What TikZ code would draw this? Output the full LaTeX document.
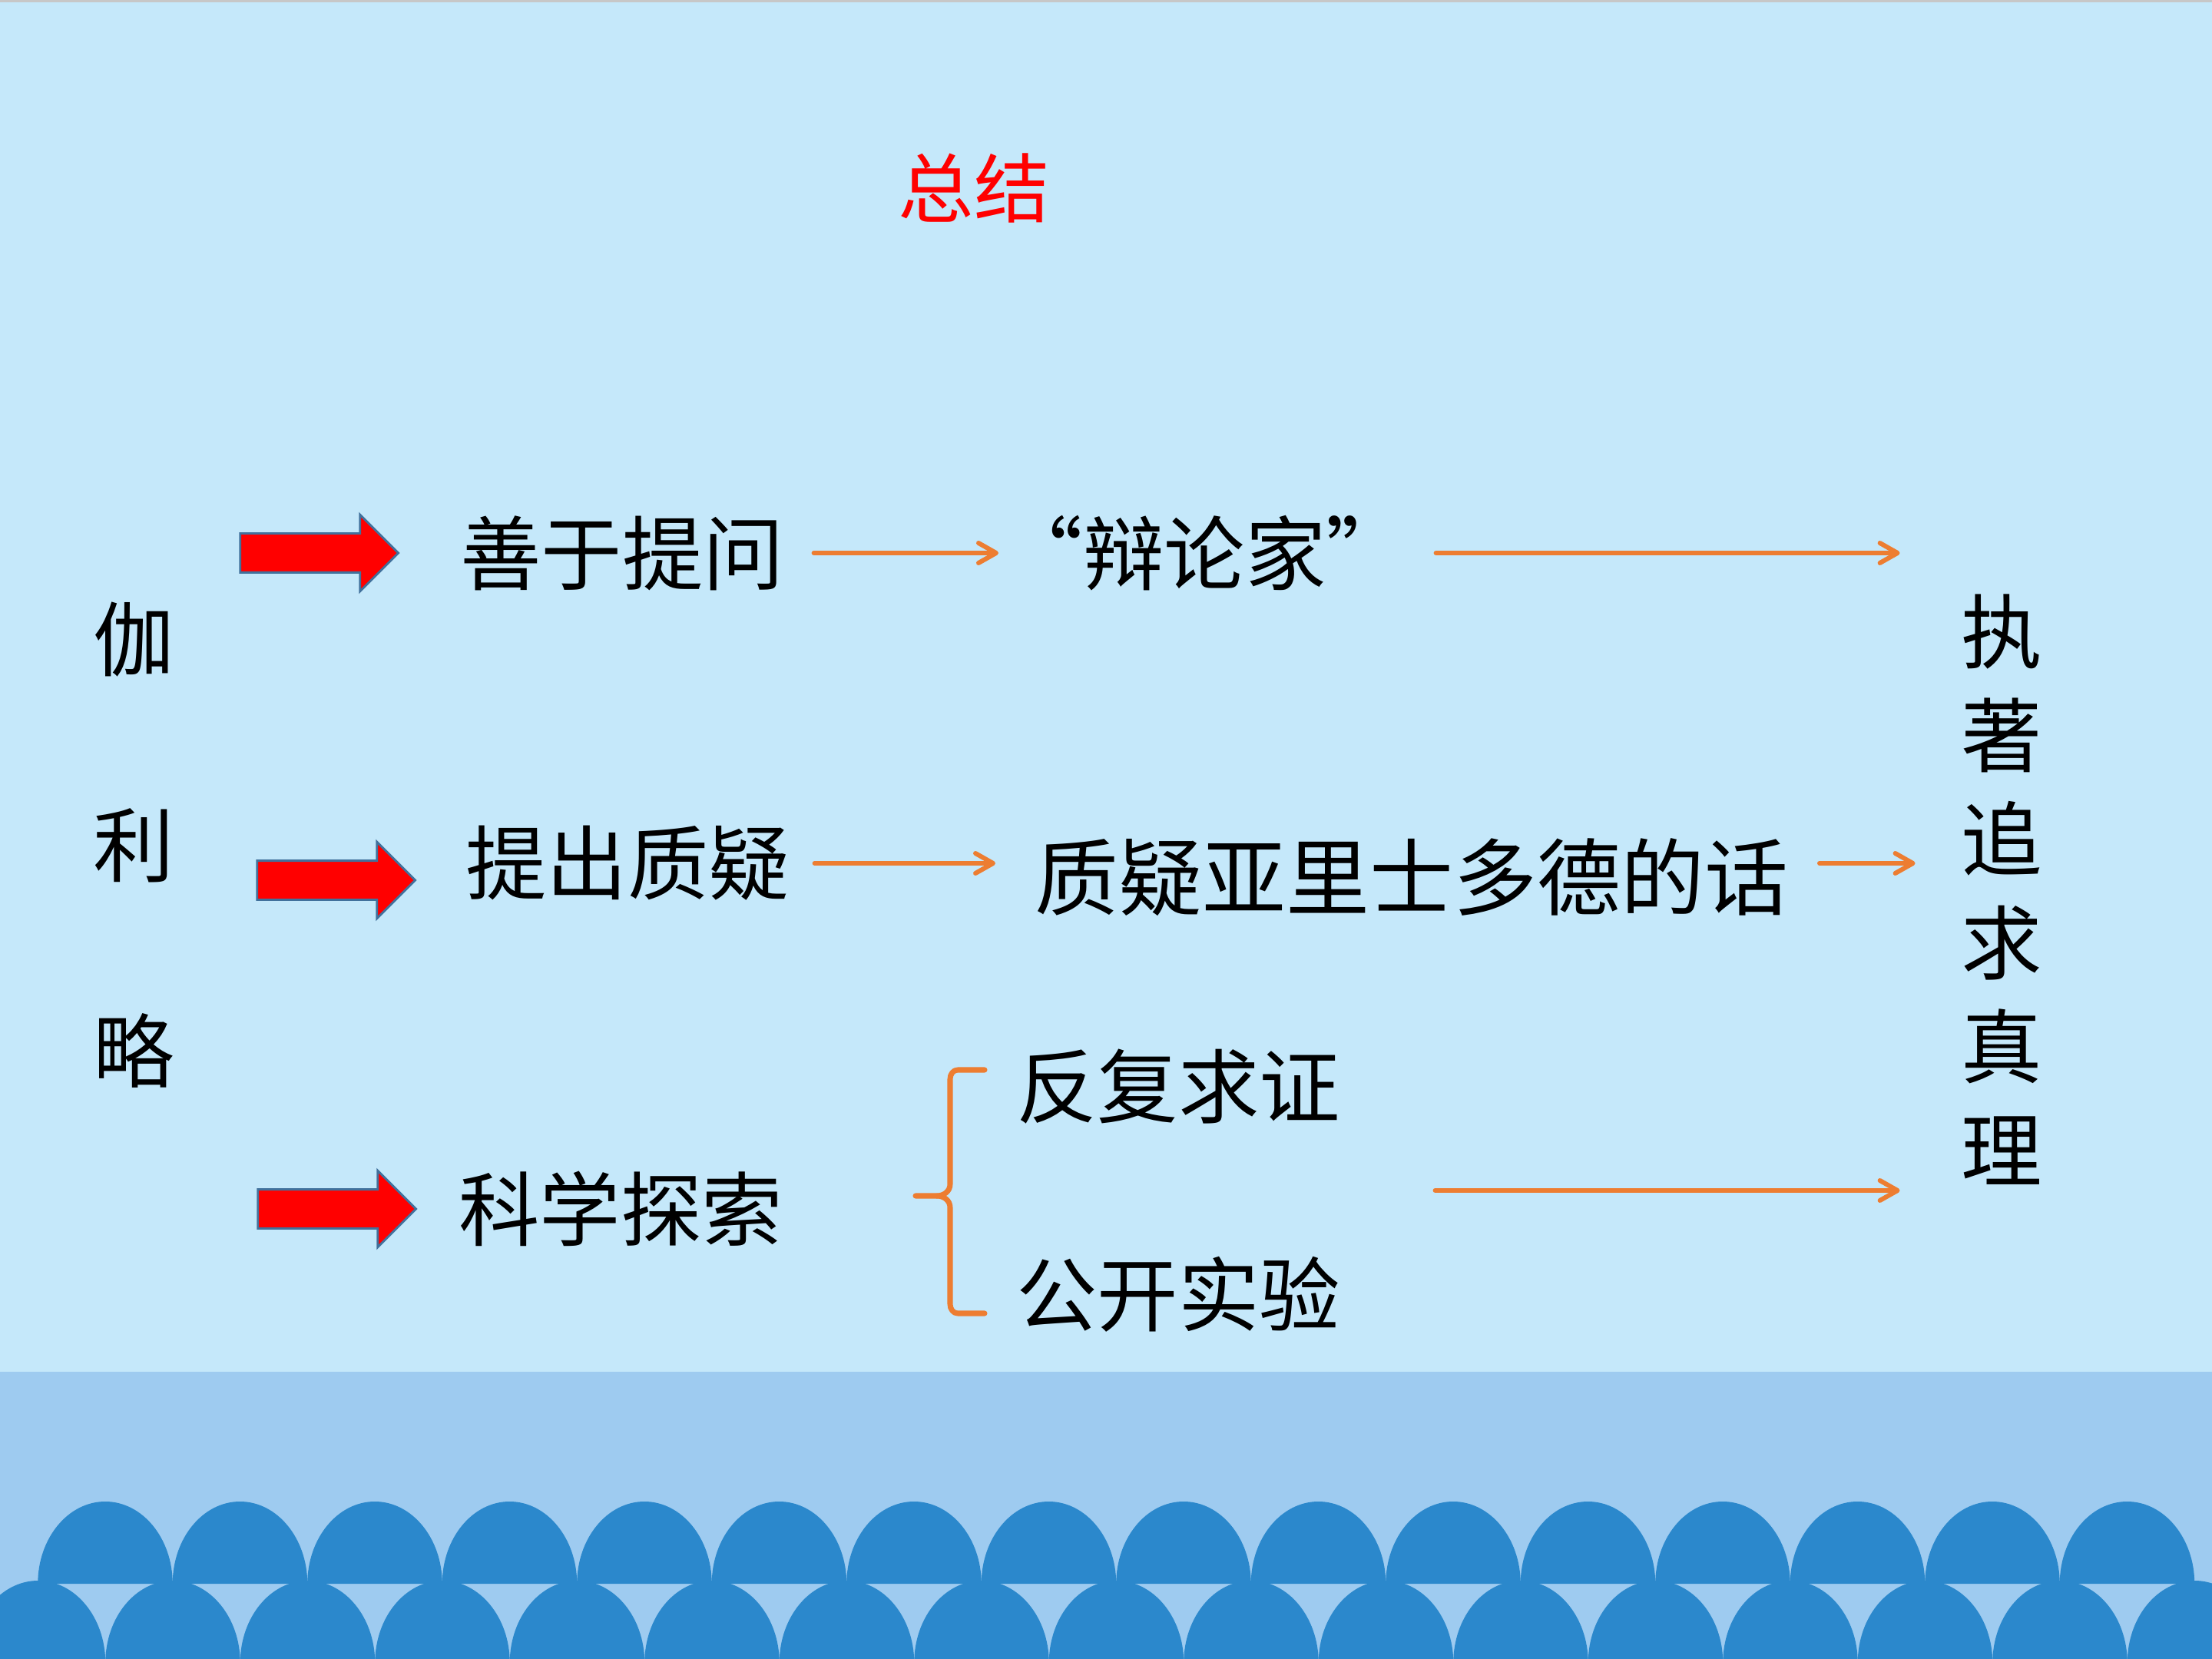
\documentclass[tikz,border=0pt]{standalone}
\usepackage{fontspec}
\newfontfamily\cjk{Noto Sans CJK SC}
\usetikzlibrary{arrows.meta,calc,shapes.arrows}
\definecolor{skyback}{RGB}{197,232,250}
\definecolor{seaband}{RGB}{158,203,240}
\definecolor{wavefill}{RGB}{43,136,204}
\definecolor{linkorange}{RGB}{237,125,49}
\definecolor{arrowedge}{RGB}{65,113,156}
\tikzset{
  word/.style={inner sep=0pt, font=\cjk\fontsize{30}{36}\selectfont},
  column/.style={word, align=center},
  redarrow/.style={single arrow, draw=arrowedge, fill=red, line width=0.8pt, minimum height=2.06cm, minimum width=0.97cm, single arrow head extend=0.245cm, inner xsep=0pt, inner ysep=0.24cm},
  linkarrow/.style={-{Straight Barb[length=2.3mm,width=2.6mm,round]}, line width=1.7pt, draw=linkorange, line cap=round, shorten <=0.38cm, shorten >=0.40cm},
  bracket/.style={draw=linkorange, line width=2pt, line cap=round, line join=round},
}

\begin{document}
\begin{tikzpicture}
    % background and sea
    \useasboundingbox (0,0) rectangle (28.8,-21.6);
    \fill[skyback] (0,0) rectangle (28.8,-21.6);
    \fill[black!22] (0,0) rectangle (28.8,-0.03);
    \fill[seaband] (0,-17.86) rectangle (28.8,-21.6);
    \begin{scope}
        \clip (0,-17.86) rectangle (28.8,-21.6);
        \foreach \k in {0,...,16}
            \fill[wavefill] ({0.495+1.755*\k-0.8775},-21.65) arc[start angle=180, end angle=0, x radius=0.8775, y radius=1.07];
        \foreach \k in {0,...,15}
            \fill[wavefill] ({1.37+1.755*\k-0.8775},-20.62) arc[start angle=180, end angle=0, x radius=0.8775, y radius=1.07];
    \end{scope}

    \node[word, text=red, font=\cjk\fontsize{28}{34}\selectfont] (title) at (12.68,-2.45) {总结};

    \node[column, font=\cjk\fontsize{30}{76.2}\selectfont] (galileo) at (1.74,-11.00) {伽\\利\\略};
    \node[column, font=\cjk\fontsize{30}{38.4}\selectfont] (zhuiqiu) at (26.06,-11.585) {执\\著\\追\\求\\真\\理};

    \node[redarrow] (ar1) at (4.03,-7.20) {};
    \node[redarrow] (ar2) at (4.25,-11.46) {};
    \node[redarrow] (ar3) at (4.26,-15.74) {};

    \node[word] (tiwen) at (8.10,-7.20) {善于提问};
    \node[word] (tichu) at (8.17,-11.24) {提出质疑};
    \node[word] (kexue) at (8.08,-15.74) {科学探索};

    \node[word, anchor=west] (bianlun) at (13.04,-7.20) {“辩论家”};
    \node[word, font=\cjk\fontsize{31}{36}\selectfont] (yanli) at (18.38,-11.42) {质疑亚里士多德的话};
    \node[word] (fanfu) at (15.34,-14.15) {反复求证};
    \node[word] (gongkai) at (15.34,-16.85) {公开实验};
    \coordinate (mid3) at ($(fanfu.east)!0.5!(gongkai.east)$);

    % bracket
    \draw[bracket] (12.82,-13.93) -- (12.47,-13.93) to[out=180,in=90] (12.37,-14.05) -- (12.37,-15.42) to[out=-90,in=0] (12.20,-15.57) -- (11.92,-15.57);
    \draw[bracket] (12.20,-15.57) to[out=0,in=90] (12.37,-15.72) -- (12.37,-16.98) to[out=-90,in=180] (12.47,-17.10) -- (12.82,-17.10);

    \draw[linkarrow, shorten >=0.04cm] (tiwen.east) -- (bianlun.west);
    \draw[linkarrow, shorten <=0.37cm, shorten >=0.79cm] (bianlun.east) -- (bianlun.east -| zhuiqiu.west);
    \draw[linkarrow, shorten <=0.32cm, shorten >=0.51cm] (tichu.east) -- (tichu.east -| yanli.west);
    \draw[linkarrow, shorten <=0.40cm, shorten >=0.59cm] (yanli.east |- tichu) -- (tichu -| zhuiqiu.west);
    \draw[linkarrow, shorten <=1.23cm, shorten >=0.79cm] (mid3) -- (mid3 -| zhuiqiu.west);
\end{tikzpicture}
\end{document}
